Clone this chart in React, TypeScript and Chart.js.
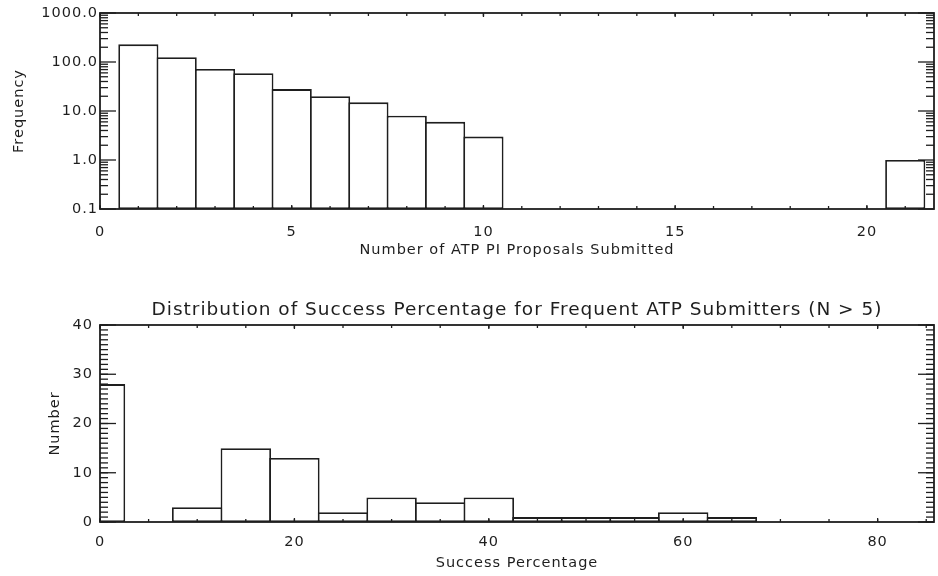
import { useEffect, useRef } from "react";
import { Chart, registerables } from "chart.js";

Chart.register(...registerables);

// ---- Data (top panel) ----
const proposalsSubmitted = [1, 2, 3, 4, 5, 6, 7, 8, 9, 10, 21];
const proposalFrequency = [229, 125, 72, 59, 28, 20, 15, 8, 6, 3, 1];
const proposalXTicks = [0, 5, 10, 15, 20];
const frequencyTicks = [0.1, 1, 10, 100, 1000];

// ---- Data (bottom panel) ----
const successBins = [0, 5, 10, 15, 20, 25, 30, 35, 40, 45, 50, 55, 60, 65];
const successCounts = [28, 0, 3, 15, 13, 2, 5, 4, 5, 1, 1, 1, 2, 1];
const successXTicks = [0, 20, 40, 60, 80];
const numberTicks = [0, 10, 20, 30, 40];

const INK = "#1e1e1e";
const FONT = "'DejaVu Sans', sans-serif";

const range = (a: number, b: number, step: number) => {
  const out: number[] = [];
  for (let v = a; v <= b + 1e-9; v += step) out.push(v);
  return out;
};
const logMinor = (decades: number[]) => {
  const out: number[] = [];
  decades.forEach((d) => {
    for (let m = 2; m <= 9; m++) out.push(d * m);
  });
  return out;
};

type FrameCfg = {
  xMajor: number[];
  xMinor: number[];
  yMajor: number[];
  yMinor: number[];
  xMajorLen: number;
  xMinorLen: number;
  yMajorLen: number;
  yMinorLen: number;
};

const makeFrame = (cfg: FrameCfg) => ({
  id: "idlFrame",
  beforeUpdate(chart: any) {
    chart.ctx.letterSpacing = "1px";
  },
  beforeDraw(chart: any) {
    chart.ctx.letterSpacing = "1px";
  },
  afterDatasetsDraw(chart: any) {
    const { ctx, chartArea: a, scales } = chart;
    const xs = scales.x;
    const ys = scales.y;
    ctx.save();
    ctx.strokeStyle = INK;
    ctx.lineWidth = 1.8;
    ctx.strokeRect(a.left, a.top, a.right - a.left, a.bottom - a.top);
    ctx.lineWidth = 1.3;
    const seg = (x1: number, y1: number, x2: number, y2: number) => {
      ctx.beginPath();
      ctx.moveTo(x1, y1);
      ctx.lineTo(x2, y2);
      ctx.stroke();
    };
    const xTick = (v: number, len: number) => {
      const p = xs.getPixelForValue(v);
      if (!isFinite(p) || p < a.left - 0.5 || p > a.right + 0.5) return;
      seg(p, a.bottom, p, a.bottom - len);
      seg(p, a.top, p, a.top + len);
    };
    const yTick = (v: number, len: number) => {
      const p = ys.getPixelForValue(v);
      if (!isFinite(p) || p < a.top - 0.5 || p > a.bottom + 0.5) return;
      seg(a.left, p, a.left + len, p);
      seg(a.right, p, a.right - len, p);
    };
    cfg.xMinor.forEach((v) => xTick(v, cfg.xMinorLen));
    cfg.xMajor.forEach((v) => xTick(v, cfg.xMajorLen));
    cfg.yMinor.forEach((v) => yTick(v, cfg.yMinorLen));
    cfg.yMajor.forEach((v) => yTick(v, cfg.yMajorLen));
    ctx.restore();
  },
});

function TopChart() {
  const ref = useRef<HTMLCanvasElement>(null);
  useEffect(() => {
    const chart = new Chart(ref.current as HTMLCanvasElement, {
      type: "bar",
      data: {
        datasets: [
          {
            data: proposalsSubmitted.map((x, i) => ({ x, y: proposalFrequency[i] })),
            backgroundColor: "#ffffff",
            borderColor: INK,
            borderWidth: 1.8,
            borderSkipped: false,
            barPercentage: 1.047,
            categoryPercentage: 1,
            clip: 0,
          } as any,
        ],
      },
      options: {
        responsive: false,
        animation: false,
        layout: { padding: { top: 13, right: 4, left: 0, bottom: 0 } },
        plugins: {
          legend: { display: false },
          tooltip: { enabled: false },
        },
        scales: {
          x: {
            type: "linear",
            min: 0,
            max: 21.75,
            offset: false,
            grid: { display: false, drawTicks: false, offset: false },
            border: { display: false },
            afterBuildTicks: (s: any) => {
              s.ticks = proposalXTicks.map((v) => ({ value: v }));
            },
            afterFit: (s: any) => {
              s.height = 61;
            },
            ticks: {
              padding: 15,
              autoSkip: false,
              maxRotation: 0,
              color: INK,
              font: { family: FONT, size: 14.5 },
              callback: (v: any) => String(v),
            },
            title: {
              display: true,
              text: "Number of ATP PI Proposals Submitted",
              color: INK,
              font: { family: FONT, size: 14.5 },
              padding: { top: 0, bottom: 11.3 },
            },
          },
          y: {
            type: "logarithmic",
            min: 0.1,
            max: 1000,
            grid: { display: false, drawTicks: false },
            border: { display: false },
            afterBuildTicks: (s: any) => {
              s.ticks = frequencyTicks.map((v) => ({ value: v }));
            },
            afterFit: (s: any) => {
              s.width = 100;
            },
            ticks: {
              padding: 2,
              autoSkip: false,
              color: INK,
              font: { family: FONT, size: 14.5 },
              callback: (v: any) => Number(v).toFixed(1),
            },
            title: {
              display: true,
              text: "Frequency",
              color: INK,
              font: { family: FONT, size: 14.5 },
              padding: { top: 10.3, bottom: 0 },
            },
          },
        } as any,
      },
      plugins: [
        makeFrame({
          xMajor: proposalXTicks,
          xMinor: range(0, 21, 1),
          yMajor: frequencyTicks,
          yMinor: logMinor([0.1, 1, 10, 100]),
          xMajorLen: 4,
          xMinorLen: 3,
          yMajorLen: 16,
          yMinorLen: 8,
        }),
      ],
    });
    return () => chart.destroy();
  }, []);
  return <canvas ref={ref} width={938} height={270} style={{ display: "block", width: 938, height: 270 }} />;
}

function BottomChart() {
  const ref = useRef<HTMLCanvasElement>(null);
  useEffect(() => {
    const chart = new Chart(ref.current as HTMLCanvasElement, {
      type: "bar",
      data: {
        datasets: [
          {
            data: successBins.map((x, i) => ({ x, y: successCounts[i] })),
            backgroundColor: "#ffffff",
            borderColor: INK,
            borderWidth: 1.8,
            borderSkipped: false,
            barPercentage: 1.037,
            categoryPercentage: 1,
            clip: 0,
          } as any,
        ],
      },
      options: {
        responsive: false,
        animation: false,
        layout: { padding: { top: 0, right: 4, left: 0, bottom: 0 } },
        plugins: {
          legend: { display: false },
          tooltip: { enabled: false },
          title: {
            display: true,
            text: "Distribution of Success Percentage for Frequent ATP Submitters (N > 5)",
            color: INK,
            fullSize: false,
            font: { family: FONT, size: 18.5, weight: "normal" },
            padding: { top: 29, bottom: 3.8 },
          },
        } as any,
        scales: {
          x: {
            type: "linear",
            min: 0,
            max: 85.8,
            offset: false,
            grid: { display: false, drawTicks: false, offset: false },
            border: { display: false },
            afterBuildTicks: (s: any) => {
              s.ticks = successXTicks.map((v) => ({ value: v }));
            },
            afterFit: (s: any) => {
              s.height = 54;
            },
            ticks: {
              padding: 12,
              autoSkip: false,
              maxRotation: 0,
              color: INK,
              font: { family: FONT, size: 14.5 },
              callback: (v: any) => String(v),
            },
            title: {
              display: true,
              text: "Success Percentage",
              color: INK,
              font: { family: FONT, size: 14.5 },
              padding: { top: 0, bottom: 4.3 },
            },
          },
          y: {
            type: "linear",
            min: 0,
            max: 40,
            grid: { display: false, drawTicks: false },
            border: { display: false },
            afterBuildTicks: (s: any) => {
              s.ticks = numberTicks.map((v) => ({ value: v }));
            },
            afterFit: (s: any) => {
              s.width = 100;
            },
            ticks: {
              padding: 7,
              autoSkip: false,
              color: INK,
              font: { family: FONT, size: 14.5 },
              callback: (v: any) => String(v),
            },
            title: {
              display: true,
              text: "Number",
              color: INK,
              font: { family: FONT, size: 14.5 },
              padding: { top: 46.3, bottom: 0 },
            },
          },
        } as any,
      },
      plugins: [
        makeFrame({
          xMajor: successXTicks,
          xMinor: range(0, 85, 5),
          yMajor: numberTicks,
          yMinor: range(0, 40, 1),
          xMajorLen: 4,
          xMinorLen: 3,
          yMajorLen: 16,
          yMinorLen: 8,
        }),
      ],
    });
    return () => chart.destroy();
  }, []);
  return <canvas ref={ref} width={938} height={306} style={{ display: "block", width: 938, height: 306 }} />;
}

export default function App() {
  return (
    <div
      style={{
        position: "absolute",
        left: 0,
        top: 0,
        width: 938,
        height: 576,
        background: "#ffffff",
        overflow: "hidden",
      }}
    >
      <TopChart />
      <BottomChart />
    </div>
  );
}
